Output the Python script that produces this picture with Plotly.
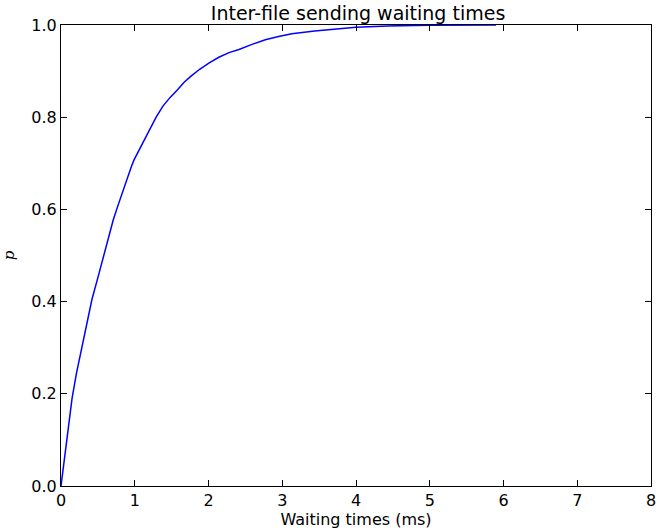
import plotly.graph_objects as go

# Waiting times (ms) and cumulative probability p
wait_ms = [0.0, 0.07, 0.15, 0.21, 0.276, 0.34, 0.397, 0.42, 0.50, 0.575, 0.64, 0.71,
           0.78, 0.844, 0.90, 0.957, 0.992, 1.10, 1.203, 1.29, 1.382, 1.48, 1.583,
           1.67, 1.763, 1.88, 2.01, 2.14, 2.278, 2.413, 2.59, 2.77, 2.95, 3.13,
           3.44, 3.70, 4.0, 4.43, 5.0, 5.9]
p_vals = [0.0, 0.095, 0.190, 0.245, 0.296, 0.345, 0.383, 0.405, 0.452, 0.498, 0.540, 0.578,
          0.612, 0.643, 0.670, 0.694, 0.708, 0.742, 0.773, 0.800, 0.824, 0.843, 0.860,
          0.876, 0.889, 0.904, 0.918, 0.930, 0.940, 0.947, 0.958, 0.968, 0.975, 0.981,
          0.987, 0.991, 0.995, 0.998, 0.9995, 1.0]

x_ticks = [0, 1, 2, 3, 4, 5, 6, 7, 8]
y_ticks = [0.0, 0.2, 0.4, 0.6, 0.8, 1.0]
y_tick_text = ["0.0", "0.2", "0.4", "0.6", "0.8", "1.0"]

fig = go.Figure()
fig.add_trace(go.Scatter(x=wait_ms, y=p_vals, mode="lines",
                         line=dict(color="#0000ff", width=1.5),
                         showlegend=False, hoverinfo="skip"))

font = "DejaVu Sans, Liberation Sans, sans-serif"
fig.update_layout(
    width=660, height=531,
    margin=dict(l=61, r=4, t=25, b=45),
    paper_bgcolor="white", plot_bgcolor="white",
    title=dict(text="Inter-file sending waiting times", x=0.5425, xanchor="center",
               y=1 - 20 / 531, yanchor="bottom",
               font=dict(family=font, size=19, color="black")),
    font=dict(family=font, color="black"),
)
fig.update_xaxes(range=[0, 8], tickvals=x_ticks, ticks="inside", ticklen=6,
                 tickcolor="black", showline=True, linecolor="black", linewidth=1.2,
                 mirror="ticks", showgrid=False, zeroline=False,
                 ticklabeloverflow="allow",
                 tickfont=dict(family=font, size=16, color="black"),
                 title=dict(text="Waiting times (ms)", standoff=2,
                            font=dict(family=font, size=16, color="black")))
fig.update_yaxes(range=[0, 1], tickvals=y_ticks, ticktext=y_tick_text, ticks="inside",
                 ticklen=6, tickcolor="black", showline=True, linecolor="black",
                 linewidth=1.2, mirror="ticks", showgrid=False, zeroline=False,
                 tickfont=dict(family=font, size=16, color="black"),
                 title=dict(text="<i>p</i>", standoff=12,
                            font=dict(family="DejaVu Serif, serif", size=15, color="black")))

fig.write_html("out.html")
